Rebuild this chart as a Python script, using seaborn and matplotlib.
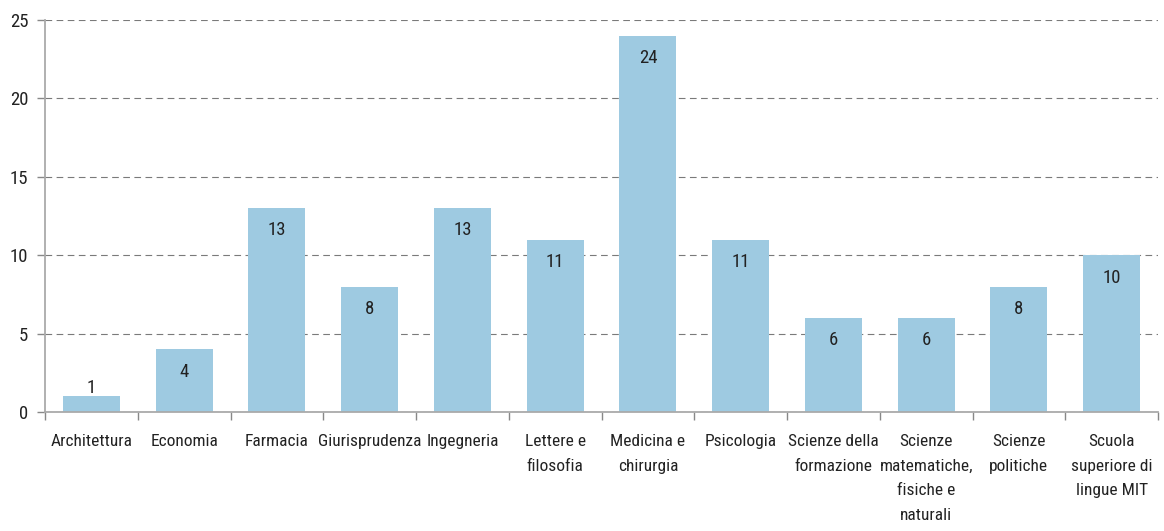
import matplotlib
matplotlib.use("Agg")
import matplotlib.pyplot as plt
import seaborn as sns
import pandas as pd
import numpy as np
from matplotlib.ticker import FixedLocator

categories = ["Architettura", "Economia", "Farmacia", "Giurisprudenza", "Ingegneria",
              "Lettere e\nfilosofia", "Medicina e\nchirurgia", "Psicologia",
              "Scienze della\nformazione", "Scienze\nmatematiche,\nfisiche e\nnaturali",
              "Scienze\npolitiche", "Scuola\nsuperiore di\nlingue MIT"]
values = [1, 4, 13, 8, 13, 11, 24, 11, 6, 6, 8, 10]

sns.set_theme(style="white")
plt.rcParams['font.family'] = ['Roboto Condensed', 'Archivo Narrow', 'PT Sans Narrow',
                               'Liberation Sans Narrow', 'DejaVu Sans']

df = pd.DataFrame({"cat": categories, "val": values})

fig = plt.figure(figsize=(11.64, 5.31), dpi=100)
ax = fig.add_axes([0.0387, 0.2241, 0.9562, 0.7382])
sns.barplot(data=df, x="cat", y="val", color="#9ECAE1", saturation=1, width=0.615,
            linewidth=0, ax=ax)

ax.set_ylim(0, 25)
ax.set_xlim(-0.5, len(categories) - 0.5)
ax.set_yticks([0, 5, 10, 15, 20, 25])
ax.yaxis.grid(True, linestyle=(0, (6, 4)), color="#7a7a7a", linewidth=0.8)
ax.set_axisbelow(True)
ax.set_xlabel("")
ax.set_ylabel("")

for s in ["top", "right"]:
    ax.spines[s].set_visible(False)
for s in ["left", "bottom"]:
    ax.spines[s].set_color("#AAAAAA")
    ax.spines[s].set_linewidth(1.3)

ax.tick_params(axis="y", which="major", left=True, length=6, color="#888888", width=1,
               labelsize=13.5, labelcolor="#222222", pad=6)
ax.set_xticks(range(len(categories)))
ax.set_xticklabels(categories, linespacing=1.8)
ax.tick_params(axis="x", which="major", bottom=False, labelsize=12.5, labelcolor="#222222", pad=10)
ax.xaxis.set_minor_locator(FixedLocator(np.arange(-0.5, len(categories), 1.0)))
ax.tick_params(axis="x", which="minor", bottom=True, length=6, color="#888888", width=1)

for i, v in enumerate(values):
    if v >= 2:
        ax.text(i, v - 0.85, str(v), ha="center", va="top", fontsize=13.5, color="#222222")
    else:
        ax.text(i, v - 0.05, str(v), ha="center", va="bottom", fontsize=13.5, color="#222222")

fig.savefig("out.png", dpi=100)
